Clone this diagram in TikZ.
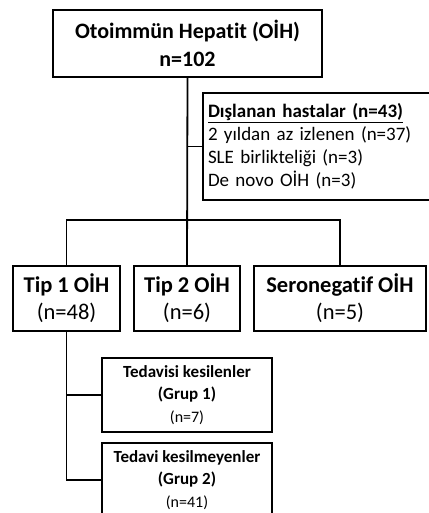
\documentclass[tikz,border=0pt]{standalone}
\usepackage{fontspec}
\setmainfont{Carlito}[Ligatures=NoCommon]
\usetikzlibrary{positioning}
\usetikzlibrary{calc}

\begin{document}
\begin{tikzpicture}[
            x = 1pt, y = -1pt, % pixel-like units, y downwards
            line width = 1.8pt, % line style
            ]

        \tikzstyle{every node}=[
            inner sep = 2pt,
            align = center
        ]
        \tikzstyle{box}=[
            draw,
            line width = 1.8pt
        ]

        \useasboundingbox (0,0) rectangle (428,513);

	% top level
	\node[box, minimum width = 269pt, minimum height = 67pt, font = \fontsize{22}{28}\selectfont\bfseries] (OIH) at (187.5,43.5) {Otoimmün Hepatit (OİH)\\n=102};

	% excluded patients
	\node[box, minimum width = 227pt, minimum height = 107pt, align = left, text width = 217pt, font = \fontsize{19}{23}\selectfont] (EXCL) at (316.5,146.5) {\underline{\textbf{Dışlanan hastalar (n=43)}}\\2 yıldan az izlenen (n=37)\\SLE birlikteliği (n=3)\\De novo OİH (n=3)};

        % subtypes
         \node[box, minimum width = 107pt, minimum height = 65pt, font = \fontsize{22.5}{27}\selectfont] (T1) at (66.5,298.5) {\textbf{Tip 1 OİH}\\(n=48)};
         \node[box, minimum width = 106pt, minimum height = 65pt, font = \fontsize{22.5}{27}\selectfont] (T2) at (187,298.5) {\textbf{Tip 2 OİH}\\(n=6)};
         \node[box, minimum width = 172pt, minimum height = 65pt, font = \fontsize{22.5}{27}\selectfont] (SERO) at (340,298.5) {\textbf{Seronegatif OİH}\\(n=5)};

        % treatment groups
         \node[box, minimum width = 170pt, minimum height = 74pt, font = \fontsize{17}{22.5}\selectfont] (G1) at (187,395) {\textbf{Tedavisi kesilenler}\\\textbf{(Grup 1)}\\{\fontsize{16}{22.5}\selectfont (n=7)}};
         \node[box, minimum width = 170pt, minimum height = 74pt, font = \fontsize{17}{22.5}\selectfont] (G2) at (187,480) {\textbf{Tedavi kesilmeyenler}\\\textbf{(Grup 2)}\\{\fontsize{16}{22.5}\selectfont (n=41)}};

        % connectors
         \coordinate (BAR) at ($(OIH.south)!0.76!(T2.north)$);
         \draw (OIH.south) -- (T2.north);
         \draw (EXCL.west) -- (OIH.south |- EXCL.west);
         \draw (T1.north) |- (BAR) -| (SERO.north);
         \draw (T1.south) |- (G2.west);
         \draw (G1.west) -- (T1.south |- G1.west);

  \end{tikzpicture}
\end{document}
